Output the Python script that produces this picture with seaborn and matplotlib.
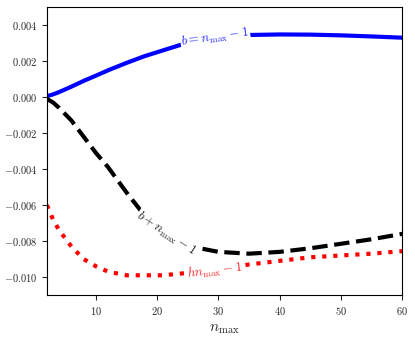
import numpy as np
import pandas as pd
import matplotlib
matplotlib.use("Agg")
import matplotlib.pyplot as plt
from matplotlib.ticker import FuncFormatter
import seaborn as sns

n_max = [2, 3, 4, 6, 8, 10, 12, 15, 18, 21, 24, 27, 30, 35, 40, 45, 50, 55, 60]
blue_vals = [0.00005, 0.00015, 0.00028, 0.00058, 0.0009, 0.00119, 0.00149, 0.0019, 0.00228,
             0.0026, 0.00292, 0.00315, 0.00332, 0.00345, 0.00348, 0.00347, 0.00343, 0.00337, 0.0033]
black_vals = [-0.0001, -0.0003, -0.0006, -0.0013, -0.0022, -0.0031, -0.0039, -0.0053, -0.0066,
              -0.0075, -0.0081, -0.0084, -0.0086, -0.0087, -0.0086, -0.0084, -0.00815, -0.0079, -0.0076]
red_vals = [-0.0060, -0.0068, -0.0074, -0.0083, -0.0090, -0.0094, -0.0097, -0.0099, -0.0099,
            -0.0099, -0.0098, -0.0097, -0.0096, -0.0093, -0.0091, -0.0089, -0.0088, -0.0087, -0.00856]
labels = [r"$b=n_{\max}-1$", r"$b+n_{\max}-1$", r"$hn_{\max}-1$"]
label_x = [29.5, 21.5, 29.5]

sns.set_theme(style="ticks")
plt.rcParams["font.family"] = ["DejaVu Serif"]
plt.rcParams["mathtext.fontset"] = "cm"

fig = plt.figure(figsize=(4.15, 3.38), dpi=100)
ax = fig.add_axes([0.113, 0.127, 0.856, 0.852])

series = [(blue_vals, "blue", "-"), (black_vals, "black", "--"), (red_vals, "red", ":")]
for vals, col, ls in series:
    df = pd.DataFrame({"n": n_max, "v": vals})
    sns.lineplot(data=df, x="n", y="v", ax=ax, color=col, linestyle=ls, linewidth=3.0)

ax.set_xlim(2, 60)
ax.set_ylim(-0.011, 0.005)
ax.set_xticks([10, 20, 30, 40, 50, 60])
ax.set_yticks([-0.010, -0.008, -0.006, -0.004, -0.002, 0.0, 0.002, 0.004])
ax.xaxis.set_major_formatter(FuncFormatter(lambda v, p: f"${v:.0f}$"))
ax.yaxis.set_major_formatter(FuncFormatter(lambda v, p: f"${v:.3f}$"))
ax.tick_params(labelsize=7.5, length=3.5, width=0.8, direction="out")
ax.set_xlabel(r"$n_{\max}$", fontsize=11)
ax.set_ylabel("")
for s in ax.spines.values():
    s.set_color("black")
    s.set_linewidth(0.8)

fig.canvas.draw()
for (vals, col, ls), lab, lx in zip(series, labels, label_x):
    xs = np.array(n_max, dtype=float)
    ys = np.array(vals)
    ly = np.interp(lx, xs, ys)
    p1 = ax.transData.transform((lx - 1.0, np.interp(lx - 1.0, xs, ys)))
    p2 = ax.transData.transform((lx + 1.0, np.interp(lx + 1.0, xs, ys)))
    ang = np.degrees(np.arctan2(p2[1] - p1[1], p2[0] - p1[0]))
    ax.text(lx, ly, lab, color=col, alpha=0.85, fontsize=9.5, rotation=ang, rotation_mode="anchor",
            ha="center", va="center",
            bbox=dict(facecolor="white", edgecolor="none", pad=0.5))

fig.savefig("out.png", dpi=100)
